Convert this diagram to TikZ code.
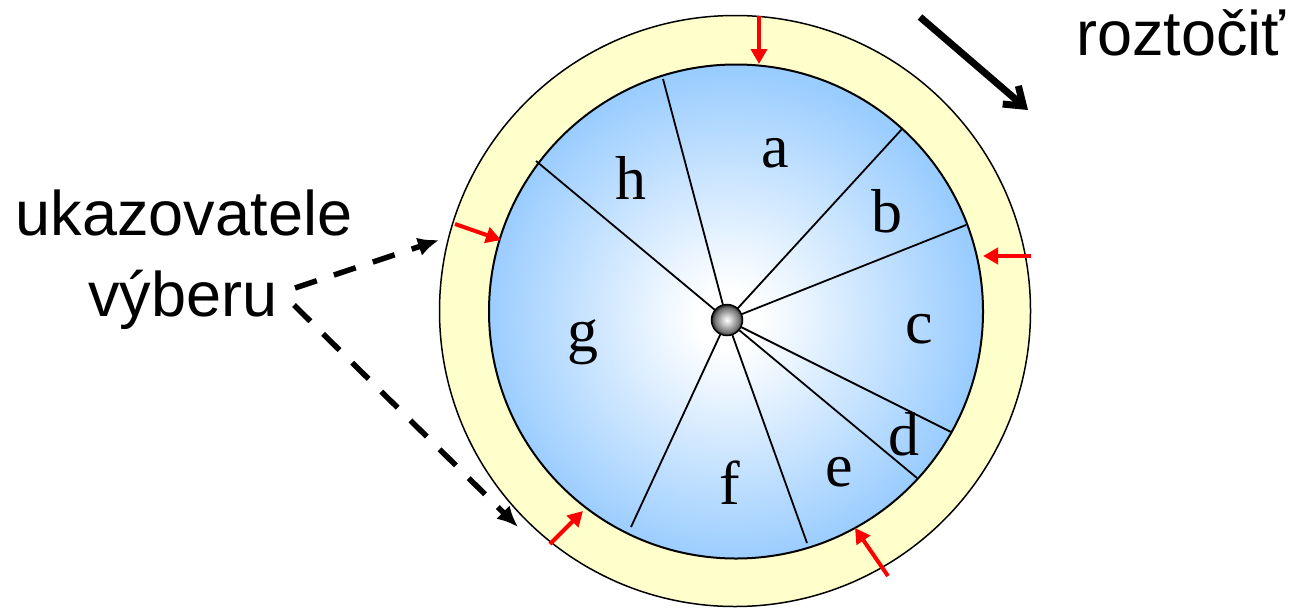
\documentclass[tikz,border=0pt]{standalone}
\usepackage{fontspec}
\setmainfont{Liberation Serif}
\newfontfamily\sansfam{Liberation Sans}
\usetikzlibrary{arrows.meta}
\definecolor{ringyellow}{RGB}{255,255,204}
\definecolor{wheelblue}{RGB}{153,204,255}
\pgfdeclareradialshading{wheelshade}{\pgfpoint{-0.9bp}{-0.9bp}}{color(0bp)=(white); color(3bp)=(white); color(25bp)=(wheelblue); color(50bp)=(wheelblue)}
\pgfdeclareradialshading{hubshade}{\pgfpoint{0bp}{0bp}}{color(0bp)=(white); color(6bp)=(white!85!black); color(20bp)=(black!55); color(25bp)=(black!85); color(50bp)=(black!85)}
\tikzset{
  ring/.style={fill=ringyellow, draw=black, line width=1.5pt},
  disc/.style={shading=wheelshade, draw=black, line width=2pt},
  spoke/.style={draw=black, line width=1.8pt},
  hubball/.style={circle, minimum size=31pt, inner sep=0pt, draw=black, line width=1.5pt, shading=hubshade},
  pointer/.style={draw=red, line width=4pt, -{Triangle[length=15pt,width=16pt]}},
  callout/.style={draw=black, line width=5.5pt, dash pattern=on 23pt off 18pt, -{Latex[length=21pt,width=19pt]}},
  spin/.style={draw=black, line width=7pt, -{Straight Barb[length=17pt,width=24pt]}},
  seglabel/.style={font=\fontsize{62}{62}\selectfont, anchor=base, inner sep=0pt},
  sanslabel/.style={font=\sansfam\fontsize{63}{63}\selectfont, anchor=base, inner sep=0pt}
}
\begin{document}
\begin{tikzpicture}[x=1pt,y=-1pt]
\useasboundingbox (0,0) rectangle (1297,608);
% ring and disc
\path[ring] (735,311) circle [radius=295.5pt];
\path[disc] (736,311.5) circle [radius=247pt];
% spoke ends
\coordinate (ha) at (663,79);
\coordinate (ab) at (902,129);
\coordinate (bc) at (966,225);
\coordinate (cd) at (951,432);
\coordinate (de) at (917,478);
\coordinate (ef) at (807,543);
\coordinate (fg) at (631,527);
\coordinate (gh) at (536,161);
\coordinate (hubc) at (727,320);
\foreach \e in {ha,ab,bc,cd,de,ef,fg,gh} \draw[spoke] (hubc) -- (\e);
\node[hubball] (hub) at (hubc) {};
% segment labels
\node[seglabel] (la) at (775,167) {a};
\node[seglabel] (lb) at (887,232) {b};
\node[seglabel] (lc) at (919,343) {c};
\node[seglabel] (ld) at (904,455) {d};
\node[seglabel] (le) at (839,486) {e};
\node[seglabel] (lf) at (730,504) {f};
\node[seglabel] (lg) at (583,351) {g};
\node[seglabel] (lh) at (631,199) {h};
% red pointers
\coordinate (p1s) at (759,16);   \coordinate (p1e) at (759,64);
\coordinate (p2s) at (1031,256); \coordinate (p2e) at (983,256);
\coordinate (p3s) at (455,224);  \coordinate (p3e) at (501,240);
\coordinate (p4s) at (550,544);  \coordinate (p4e) at (583,511);
\coordinate (p5s) at (888,576);  \coordinate (p5e) at (855,528);
\draw[pointer] (p1s) -- (p1e);
\draw[pointer] (p2s) -- (p2e);
\draw[pointer] (p3s) -- (p3e);
\draw[pointer] (p4s) -- (p4e);
\draw[pointer] (p5s) -- (p5e);
% texts
\node[sanslabel] (ukaz) at (184,235) {ukazovatele};
\node[sanslabel] (vyb) at (183,316) {výberu};
\node[sanslabel] (rot) at (1181,55) {roztočiť};
% callout arrows
\coordinate (c1s) at (295,288); \coordinate (c1e) at (439,240);
\coordinate (c2s) at (294,305); \coordinate (c2e) at (518,527);
\draw[callout] (c1s) -- (c1e);
\draw[callout] (c2s) -- (c2e);
% spin arrow
\coordinate (r1) at (920,17); \coordinate (r2) at (1028,110);
\draw[spin] (r1) -- (r2);
\end{tikzpicture}
\end{document}
